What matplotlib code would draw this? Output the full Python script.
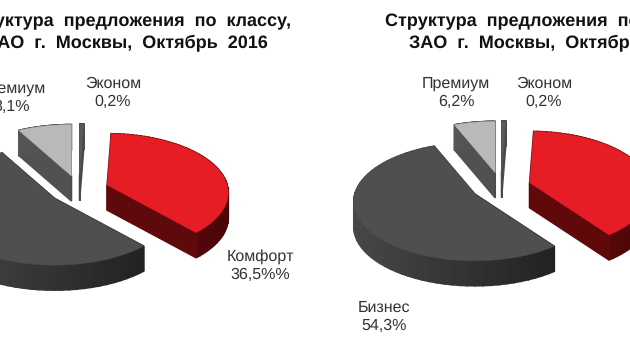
import numpy as np
import matplotlib
matplotlib.use('Agg')
import matplotlib.pyplot as plt
from matplotlib.colors import to_rgb

plt.rcParams['font.family'] = ['Liberation Sans', 'DejaVu Sans']
plt.rcParams['text.hinting'] = 'no_hinting'
plt.rcParams['text.hinting_factor'] = 1

# shares, clockwise from 12 o'clock, as drawn in the picture
classes = ['Эконом', 'Комфорт', 'Бизнес', 'Премиум']
shares_2016_left = [0.2, 37.7, 54.0, 8.1]
shares_2016_right = [0.2, 39.3, 54.3, 6.2]

# classes that stay inside the frame on each side
left_labels = {'Эконом': '0,2%', 'Комфорт': '36,5%%', 'Премиум': '8,1%'}
right_labels = {'Эконом': '0,2%', 'Премиум': '6,2%', 'Бизнес': '54,3%'}
title_line1 = 'Структура  предложения  по  классу,'
title_line2 = 'ЗАО  г.  Москвы,  Октябрь  2016'

top_colors = {'Эконом': '#5a5a5a', 'Комфорт': '#e71d25', 'Бизнес': '#4f4f4f', 'Премиум': '#b9b9b9'}
wall_left = {'Эконом': '#4a4a4a', 'Комфорт': '#6a0a0c', 'Бизнес': '#474747', 'Премиум': '#565656'}
wall_right = {'Эконом': '#4a4a4a', 'Комфорт': '#4a0608', 'Бизнес': '#222222', 'Премиум': '#4c4c4c'}

RX, RY, PERSP = 120, 58, 0.13
DEPTH = 25
EXPLODE = 30
MIN_SWEEP = 2.2  # degrees, the thin slice is drawn wider than its share


def project(theta, r=1.0):
    u = r * np.sin(theta)
    v = -r * np.cos(theta)
    s = 1 / (1 - PERSP * v)
    return RX * u * s, RY * v * s


def draw_slice(ax, cx, cy, start, sweep, name):
    mid = start + sweep / 2
    ax_x = cx + EXPLODE * np.sin(mid)
    ax_y = cy - EXPLODE * np.cos(mid) * RY / RX
    thetas = np.linspace(start, start + sweep, 60)
    px, py = project(thetas)
    xs = np.concatenate([[ax_x], ax_x + px, [ax_x]])
    ys = np.concatenate([[ax_y], ax_y + py, [ax_y]])

    c0, c1 = np.array(to_rgb(wall_left[name])), np.array(to_rgb(wall_right[name]))
    span = max(xs.max() - xs.min(), 1)
    for i in range(len(xs) - 1):
        t = ((xs[i] + xs[i + 1]) / 2 - xs.min()) / span
        col = c0 + (c1 - c0) * t
        ax.fill([xs[i], xs[i + 1], xs[i + 1], xs[i]],
                [ys[i], ys[i + 1], ys[i + 1] + DEPTH, ys[i] + DEPTH],
                color=col, lw=1.2, zorder=2)
    ax.fill(xs, ys, color=top_colors[name], lw=0.3, zorder=2)


def draw_pie(ax, cx, cy, shares):
    sweeps = [max(np.radians(s * 3.6), np.radians(MIN_SWEEP) if s < 1 else 0) for s in shares]
    extra = sum(sweeps) - 2 * np.pi
    sweeps[2] -= extra
    starts = np.cumsum([0] + sweeps[:-1])
    # back slices first
    for i in [3, 0, 1, 2]:
        draw_slice(ax, cx, cy, starts[i], sweeps[i], classes[i])


def draw_label(ax, x, y, name, value):
    ax.text(x, y, name, ha='center', va='baseline', fontsize=11.2, color='#333333')
    ax.text(x, y + 18, value, ha='center', va='baseline', fontsize=11.2, color='#333333')


fig = plt.figure(figsize=(6.3, 3.55), dpi=100)
ax = fig.add_axes([0, 0, 1, 1])
ax.set_xlim(0, 630)
ax.set_ylim(355, 0)
ax.axis('off')

draw_pie(ax, 79, 190, shares_2016_left)
draw_pie(ax, 501, 187, shares_2016_right)

for cx in [127, 550]:
    ax.text(cx, 26, title_line1, ha='center', va='baseline', fontsize=12.9, fontweight='bold', color='#111111')
    ax.text(cx, 47, title_line2, ha='center', va='baseline', fontsize=12.9, fontweight='bold', color='#111111')

draw_label(ax, 12, 93, 'Премиум', left_labels['Премиум'])
draw_label(ax, 113, 88, 'Эконом', left_labels['Эконом'])
draw_label(ax, 260, 261, 'Комфорт', left_labels['Комфорт'])
draw_label(ax, 456, 88, 'Премиум', right_labels['Премиум'])
draw_label(ax, 544, 88, 'Эконом', right_labels['Эконом'])
draw_label(ax, 384, 312, 'Бизнес', right_labels['Бизнес'])

fig.savefig('out.png', dpi=100)
